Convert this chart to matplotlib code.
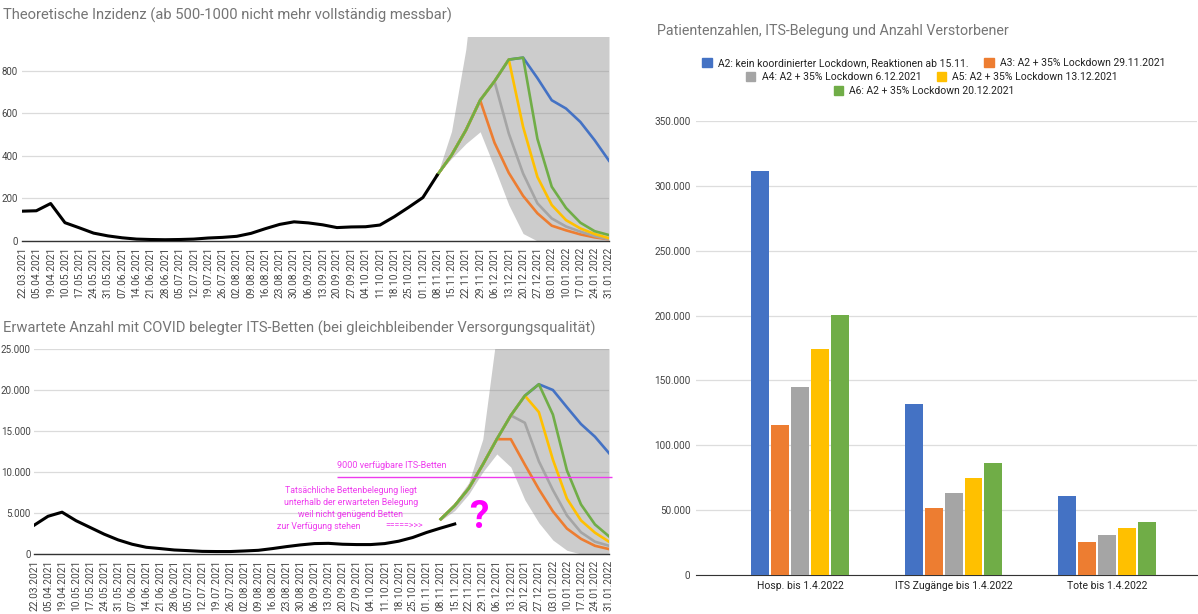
import numpy as np
import matplotlib
matplotlib.use("Agg")
import matplotlib.pyplot as plt
import matplotlib.patches as mpatches
from matplotlib.ticker import FuncFormatter

plt.rcParams["font.family"] = ["Roboto", "DejaVu Sans"]

nan = np.nan

# ---------------------------------------------------------------------------
# data
# ---------------------------------------------------------------------------
dates = ["22.03.2021", "05.04.2021", "19.04.2021", "10.05.2021", "17.05.2021",
         "24.05.2021", "31.05.2021", "07.06.2021", "14.06.2021", "21.06.2021",
         "28.06.2021", "05.07.2021", "12.07.2021", "19.07.2021", "26.07.2021",
         "02.08.2021", "09.08.2021", "16.08.2021", "23.08.2021", "30.08.2021",
         "06.09.2021", "13.09.2021", "20.09.2021", "27.09.2021", "04.10.2021",
         "11.10.2021", "18.10.2021", "25.10.2021", "01.11.2021", "08.11.2021",
         "15.11.2021", "22.11.2021", "29.11.2021", "06.12.2021", "13.12.2021",
         "20.12.2021", "27.12.2021", "03.01.2022", "10.01.2022", "17.01.2022",
         "24.01.2022", "31.01.2022"]
FC_START = 29  # forecasts start at 08.11.2021

# theoretical incidence
inz_actual = [140, 142, 176, 86, 62, 37, 24, 15, 9, 7, 6, 7, 9, 14, 17, 22, 36,
              58, 78, 90, 85, 76, 63, 66, 67, 75, 114, 158, 204, 309]
inz_a2 = [309, 403, 520, 661, 750, 852, 861, 765, 661, 622, 559, 473, 377]
inz_a3 = [309, 403, 520, 661, 462, 320, 212, 130, 72, 50, 31, 17, 8]
inz_a4 = [309, 403, 520, 661, 750, 505, 317, 177, 106, 68, 44, 23, 8]
inz_a5 = [309, 403, 520, 661, 750, 852, 536, 301, 169, 98, 59, 33, 13]
inz_a6 = [309, 403, 520, 661, 750, 852, 861, 480, 255, 155, 86, 46, 28]
inz_band_hi = [309, 515, 900, 1500, 2000, 2000, 2000, 2000, 2000, 2000, 2000, 2000, 2000]
inz_band_lo = [309, 388, 457, 513, 345, 170, 35, 0, 0, 0, 0, 0, 0]

# ICU beds
its_actual = [3500, 4600, 5100, 4060, 3240, 2420, 1720, 1190, 820, 660, 490, 410,
              320, 300, 300, 370, 450, 660, 900, 1110, 1270, 1300, 1190, 1150,
              1150, 1270, 1560, 2010, 2630, 3160, 3660]
its_a2 = [4250, 5900, 8000, 10900, 14000, 16900, 19300, 20700, 20000, 17900, 15850, 14300, 12300]
its_a3 = [4250, 5900, 8000, 10900, 14000, 14000, 10900, 7900, 5200, 3100, 1850, 1000, 600]
its_a4 = [4250, 5900, 8000, 10900, 14000, 16900, 16000, 11300, 7800, 4700, 2650, 1500, 1000]
its_a5 = [4250, 5900, 8000, 10900, 14000, 16900, 19300, 17300, 11500, 6750, 4100, 2600, 1500]
its_a6 = [4250, 5900, 8000, 10900, 14000, 16900, 19300, 20700, 17000, 10200, 6050, 3600, 2150]
its_band_hi = [4400, 6300, 8700, 14000, 27000, 30000, 30000, 30000, 30000, 30000, 30000, 30000, 30000]
its_band_lo = [4100, 5300, 7300, 10000, 12200, 10600, 6600, 3800, 1700, 450, 0, 0, 0]
its_capacity = 9400

# totals until 1.4.2022
bar_cats = ["Hosp. bis 1.4.2022", "ITS Zugänge bis 1.4.2022", "Tote bis 1.4.2022"]
bar_a2 = [311500, 132000, 61000]
bar_a3 = [116000, 52000, 25600]
bar_a4 = [145000, 63000, 30700]
bar_a5 = [174000, 75000, 35900]
bar_a6 = [200500, 86000, 41000]

scen_labels = ["A2: kein koordinierter Lockdown, Reaktionen ab 15.11.",
               "A3: A2 + 35% Lockdown 29.11.2021",
               "A4: A2 + 35% Lockdown 6.12.2021",
               "A5: A2 + 35% Lockdown 13.12.2021",
               "A6: A2 + 35% Lockdown 20.12.2021"]
colors = ["#4472C4", "#ED7D31", "#A5A5A5", "#FFC000", "#70AD47"]

TITLE_C = "#757575"
TICK_C = "#444444"
MAGENTA = "#ee3bee"


def de_fmt(v, _pos=None):
    return f"{int(round(v)):,}".replace(",", ".")


def style_line_axes(ax, ymax, yticks, pad):
    ax.set_xlim(0, len(dates) - 1)
    ax.set_ylim(0, ymax)
    ax.set_xticks(np.arange(len(dates)))
    ax.set_xticklabels(dates, rotation=90, fontsize=7.3, color=TICK_C)
    ax.set_yticks(yticks)
    ax.yaxis.set_major_formatter(FuncFormatter(de_fmt))
    ax.tick_params(axis="y", length=0, pad=pad, labelsize=7, labelcolor=TICK_C)
    ax.tick_params(axis="x", length=0, pad=4)
    ax.grid(axis="y", color="#888888", alpha=0.3, linewidth=0.9, zorder=1)
    ax.set_axisbelow(False)
    for s in ("top", "right", "left"):
        ax.spines[s].set_visible(False)
    ax.spines["bottom"].set_color("#333333")
    ax.spines["bottom"].set_linewidth(1.0)


fig = plt.figure(figsize=(11.98, 6.14), dpi=100)

# ---------------------------------------------------------------------------
# top-left: incidence
# ---------------------------------------------------------------------------
ax1 = fig.add_axes([22 / 1198, 1 - 241 / 614, 587 / 1198, 204 / 614])
x_all = np.arange(len(dates))
x_fc = x_all[FC_START:]
ax1.fill_between(x_fc, inz_band_lo, inz_band_hi, color="#cccccc", lw=0, zorder=0)
for vals, c in zip([inz_a2, inz_a3, inz_a4, inz_a5, inz_a6], colors):
    ax1.plot(x_fc, vals, color=c, lw=1.9, zorder=3, solid_joinstyle="round")
ax1.plot(x_all[:len(inz_actual)], inz_actual, color="black", lw=2.2, zorder=4)
style_line_axes(ax1, 958, [0, 200, 400, 600, 800], 3)

# ---------------------------------------------------------------------------
# bottom-left: ICU beds
# ---------------------------------------------------------------------------
ax2 = fig.add_axes([34 / 1198, 1 - 554 / 614, 575 / 1198, 205 / 614])
ax2.fill_between(x_fc, its_band_lo, its_band_hi, color="#cccccc", lw=0, zorder=0)
for vals, c in zip([its_a2, its_a3, its_a4, its_a5, its_a6], colors):
    ax2.plot(x_fc, vals, color=c, lw=1.9, zorder=3, solid_joinstyle="round")
ax2.plot(x_all[:len(its_actual)], its_actual, color="black", lw=2.2, zorder=4)
style_line_axes(ax2, 25000, [0, 5000, 10000, 15000, 20000, 25000], 2.5)

ax2.hlines(its_capacity, 21.6, 41.2, color=MAGENTA, lw=1.0, zorder=5, clip_on=False)
ax2.text(21.6, 10800, "9000 verfügbare ITS-Betten", color=MAGENTA, fontsize=6.5,
         ha="left", va="center")
note = ["Tatsächliche Bettenbelegung liegt", "unterhalb der erwarteten Belegung",
        "weil nicht genügend Betten"]
for line, yv in zip(note, [7700, 6250, 4800]):
    ax2.text(22.6, yv, line, color=MAGENTA, fontsize=6.3, ha="center", va="center")
ax2.text(17.3, 3350, "zur Verfügung stehen", color=MAGENTA, fontsize=6.3,
         ha="left", va="center")
ax2.text(26.4, 3350, "=====>>>", color=MAGENTA, fontsize=6.3, ha="center", va="center")
ax2.text(31.7, 4400, "?", color="#ff00ff", fontsize=28, fontweight="bold",
         ha="center", va="center")

# ---------------------------------------------------------------------------
# right: bars
# ---------------------------------------------------------------------------
ax3 = fig.add_axes([696 / 1198, 1 - 575 / 614, 501 / 1198, 454 / 614])
xc = np.arange(len(bar_cats))
step, width = 0.130, 0.117
for k, (vals, c) in enumerate(zip([bar_a2, bar_a3, bar_a4, bar_a5, bar_a6], colors)):
    ax3.bar(xc + (k - 2) * step, vals, width=width, color=c, zorder=3)
ax3.set_xlim(-0.678, 2.586)
ax3.set_ylim(0, 350000)
ax3.set_yticks(np.arange(0, 350001, 50000))
ax3.yaxis.set_major_formatter(FuncFormatter(de_fmt))
ax3.set_xticks(xc)
ax3.set_xticklabels(bar_cats, fontsize=7.5, color="#222222")
ax3.tick_params(axis="y", length=0, pad=4, labelsize=7.2, labelcolor=TICK_C)
ax3.tick_params(axis="x", length=0, pad=4)
ax3.grid(axis="y", color="#dddddd", linewidth=0.9, zorder=0)
ax3.set_axisbelow(True)
for s in ("top", "right", "left"):
    ax3.spines[s].set_visible(False)
ax3.spines["bottom"].set_color("#333333")

handles = [mpatches.Patch(color=c, label=l) for c, l in zip(colors, scen_labels)]
rows = [(handles[0:2], 2, 0.7796, 1 - 63 / 614),
        (handles[2:4], 2, 0.7780, 1 - 77 / 614),
        (handles[4:5], 1, 0.7713, 1 - 91 / 614)]
for hs, nc, lx, ly in rows:
    fig.legend(handles=hs, ncol=nc, loc="center", bbox_to_anchor=(lx, ly),
               frameon=False, fontsize=7.5, handlelength=0.9, handleheight=0.9,
               handletextpad=0.6, columnspacing=1.5, borderpad=0,
               labelcolor="#222222")

# ---------------------------------------------------------------------------
# titles
# ---------------------------------------------------------------------------
fig.text(3 / 1198, 1 - 15 / 614,
         "Theoretische Inzidenz (ab 500-1000 nicht mehr vollständig messbar)",
         fontsize=10.6, color=TITLE_C, ha="left", va="center")
fig.text(3 / 1198, 1 - 328 / 614,
         "Erwartete Anzahl mit COVID belegter ITS-Betten (bei gleichbleibender Versorgungsqualität)",
         fontsize=10.6, color=TITLE_C, ha="left", va="center")
fig.text(657 / 1198, 1 - 31 / 614,
         "Patientenzahlen, ITS-Belegung und Anzahl Verstorbener",
         fontsize=10.3, color=TITLE_C, ha="left", va="center")

fig.savefig("out.png", dpi=100, facecolor="white")
